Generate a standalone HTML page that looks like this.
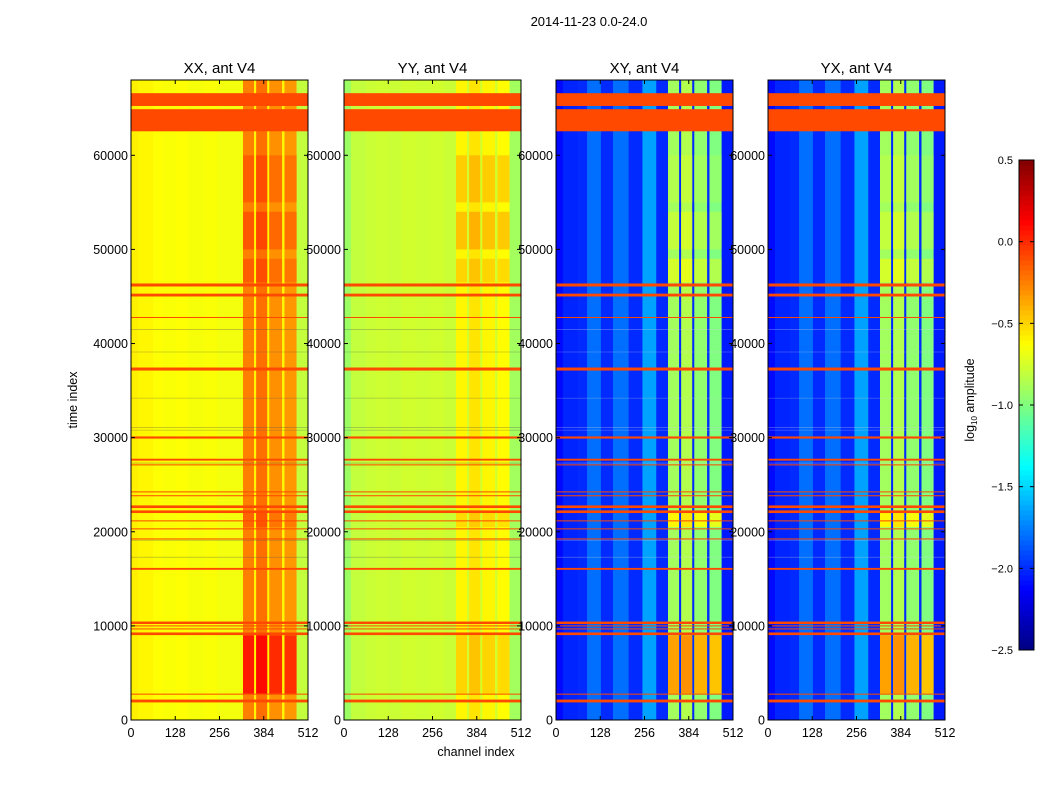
<!DOCTYPE html>
<html><head><meta charset="utf-8">
<style>
body{margin:0;background:#fff;}
svg{display:block;font-family:"Liberation Sans","DejaVu Sans",sans-serif;}
</style></head>
<body>
<svg id="chart" width="1050" height="800" viewBox="0 0 1050 800">
<text x="589" y="26" font-size="13" text-anchor="middle">2014-11-23 0.0-24.0</text>
<g id="panels"></g>
<text x="476" y="756" font-size="12.5" text-anchor="middle">channel index</text>
<text transform="translate(77,400) rotate(-90)" font-size="12.5" text-anchor="middle">time index</text>
<g id="cbar"></g>
</svg>
<script>
// ---- data ----
const panelTitles = ["XX, ant V4","YY, ant V4","XY, ant V4","YX, ant V4"];
const xTicks = [0,128,256,384,512];
const yTicks = [0,10000,20000,30000,40000,50000,60000];
const cbarTicks = [0.5,0.0,-0.5,-1.0,-1.5,-2.0,-2.5];
const cbarLabels = ["0.5","0.0","\u22120.5","\u22121.0","\u22121.5","\u22122.0","\u22122.5"];
// channel band edges and log10 amplitude per band, per panel
const bandEdges = [0,20,64,90,130,165,210,250,290,324,356,362,394,400,437,444,479,512];
const xxBands = [-0.58,-0.6,-0.63,-0.64,-0.63,-0.65,-0.64,-0.66,-0.66,-0.25,-0.6,-0.2,-0.6,-0.3,-0.6,-0.32,-0.8];
const yyBands = [-0.92,-0.8,-0.78,-0.77,-0.78,-0.76,-0.77,-0.76,-0.78,-0.6,-0.76,-0.55,-0.76,-0.6,-0.76,-0.62,-0.9];
const xyBands = [-2.1,-2.02,-2.0,-1.8,-2.0,-1.8,-2.0,-1.65,-2.0,-0.9,-2.0,-0.85,-2.0,-0.95,-2.0,-1.0,-2.05];
const yxBands = [-2.1,-2.02,-2.0,-1.8,-2.0,-1.8,-2.0,-1.65,-2.0,-0.9,-2.0,-0.85,-2.0,-0.95,-2.0,-1.0,-2.05];
// time segments where the high-channel region is brighter (start,end,offset)
const segStart = [2800,46500,50000,55000,20500];
const segEnd = [9000,49000,54000,60000,22000];
const segOffsetXX = [0.3,0.1,0.12,0.1,0.08];
const segOffsetYY = [0.1,0.1,0.15,0.12,0.08];
const segOffsetXY = [0.55,0.15,0.1,0.05,0.3];
// flagged time ranges (start,end)
const flagStart = [62550,65240,46060,45000,42720,37130,29900,27560,27100,24230,23780,22520,21990,21150,20300,19230,15960,10200,9950,9630,9020,2740,1870];
const flagEnd =   [64900,66600,46380,45300,42820,37450,30130,27760,27160,24290,23880,22800,22270,21210,20360,19290,16160,10460,10050,9730,9300,2800,2170];
// thin dark lines (time index)
const darkLines = [41500,39100,34200,31100,30800,27300,19100,17300];

const tMax = 68000, vMin=-2.5, vMax=0.5;
const panelX = [131,344,556,768], pw = 177, pTop = 80, pBot = 720;
const panelBands = [xxBands,yyBands,xyBands,yxBands];
const panelSeg = [segOffsetXX,segOffsetYY,segOffsetXY,segOffsetXY];

function jet(v){
  let t=(v-vMin)/(vMax-vMin); t=Math.max(0,Math.min(1,t));
  const f=x=>Math.max(0,Math.min(1,x));
  const r=f(1.5-Math.abs(4*t-3)), g=f(1.5-Math.abs(4*t-2)), b=f(1.5-Math.abs(4*t-1));
  return `rgb(${Math.round(r*255)},${Math.round(g*255)},${Math.round(b*255)})`;
}
const NS="http://www.w3.org/2000/svg";
function mk(tag,attrs,parent){const e=document.createElementNS(NS,tag);for(const k in attrs)e.setAttribute(k,attrs[k]);parent.appendChild(e);return e;}

const panels=document.getElementById('panels');
panelX.forEach((x0,pi)=>{
  const xs=c=>x0+c/512*pw, ys=t=>pBot-t/tMax*(pBot-pTop);
  const g=mk('g',{},panels);
  
  
  const bands=panelBands[pi];
  for(let i=0;i<bands.length;i++){
    const r=mk('rect',{x:xs(bandEdges[i]),y:pTop,width:xs(bandEdges[i+1])-xs(bandEdges[i])+0.3,height:pBot-pTop,fill:jet(bands[i])},g);
    
    
  }
  for(let s=0;s<segStart.length;s++){
    [9,11,13,15].forEach(i=>{
      const r=mk('rect',{x:xs(bandEdges[i]),y:ys(segEnd[s]),width:xs(bandEdges[i+1])-xs(bandEdges[i]),height:ys(segStart[s])-ys(segEnd[s]),fill:jet(bands[i]+panelSeg[pi][s])},g);
      
      
    });
  }
  darkLines.forEach(t=>{
    const l=mk('line',{x1:x0,x2:x0+pw,y1:ys(t),y2:ys(t),stroke:pi<2?'#555':'#ccd',"stroke-width":0.6,opacity:0.5},g);
    
    
  });
  for(let f=0;f<flagStart.length;f++){
    const h=Math.max(1,ys(flagStart[f])-ys(flagEnd[f]));
    const r=mk('rect',{x:x0,y:ys(flagEnd[f]),width:pw,height:h,fill:'#ff4800'},g);
    
    
  }
  const fr=mk('rect',{x:x0,y:pTop,width:pw,height:pBot-pTop,fill:'none',stroke:'#000','stroke-width':1},g);
  
  
  const tt=mk('text',{x:x0+pw/2,y:73,'font-size':15,'text-anchor':'middle'},g);
  tt.textContent=panelTitles[pi];
  
  
  xTicks.forEach(c=>{
    mk('line',{x1:xs(c),x2:xs(c),y1:pBot,y2:pBot-4,stroke:'#000'},g);
    mk('line',{x1:xs(c),x2:xs(c),y1:pTop,y2:pTop+4,stroke:'#000'},g);
    const t=mk('text',{x:xs(c),y:pBot+17,'font-size':12.5,'text-anchor':'middle'},g);
    t.textContent=c;
    
    
  });
  yTicks.forEach(v=>{
    mk('line',{x1:x0,x2:x0+4,y1:ys(v),y2:ys(v),stroke:'#000'},g);
    mk('line',{x1:x0+pw,x2:x0+pw-4,y1:ys(v),y2:ys(v),stroke:'#000'},g);
    const t=mk('text',{x:x0-3,y:ys(v)+4.5,'font-size':12.5,'text-anchor':'end'},g);
    t.textContent=v;
    
    
  });
});

const cb=document.getElementById('cbar');
const cbTop=160, cbBot=650, cbX=1019, cbW=15;
const cy=v=>cbBot-(v-vMin)/(vMax-vMin)*(cbBot-cbTop);
for(let i=0;i<98;i++){
  const v0=vMin+i*(vMax-vMin)/98, v1=vMin+(i+1)*(vMax-vMin)/98;
  mk('rect',{x:cbX,y:cy(v1),width:cbW,height:cy(v0)-cy(v1)+0.5,fill:jet((v0+v1)/2)},cb);
}
mk('rect',{x:cbX,y:cbTop,width:cbW,height:cbBot-cbTop,fill:'none',stroke:'#000'},cb);
cbarTicks.forEach((v,i)=>{
  mk('line',{x1:cbX,x2:cbX+4,y1:cy(v),y2:cy(v),stroke:'#000'},cb);
  mk('line',{x1:cbX+cbW,x2:cbX+cbW-4,y1:cy(v),y2:cy(v),stroke:'#000'},cb);
  const t=mk('text',{x:1013,y:cy(v)+4,'font-size':11,'text-anchor':'end'},cb);
  t.textContent=cbarLabels[i];
  
  
});
const lbl=mk('text',{transform:'translate(974,400) rotate(-90)','font-size':12.5,'text-anchor':'middle'},cb);
lbl.innerHTML='log<tspan font-size="8" dy="3">10</tspan><tspan dy="-3"> amplitude</tspan>';


</script>
</body></html>
